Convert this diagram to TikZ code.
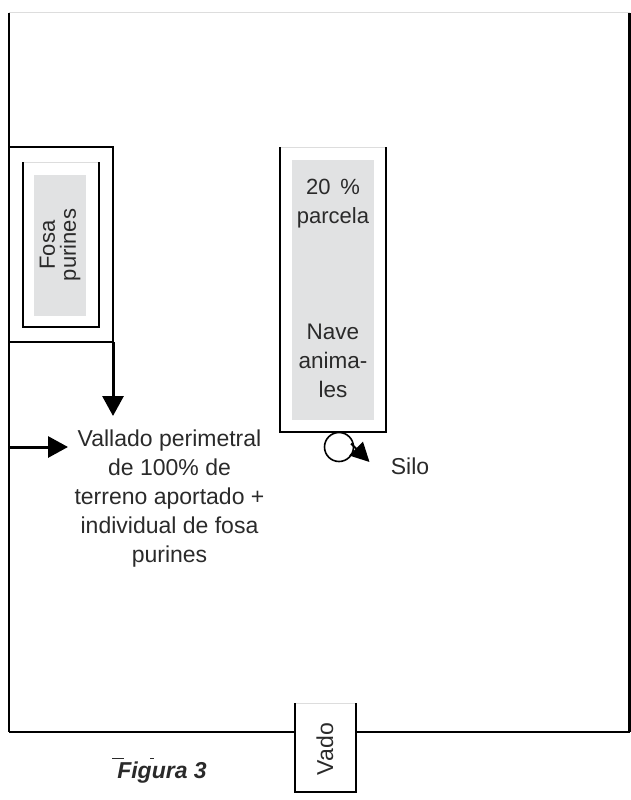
\documentclass[tikz,border=0pt]{standalone}
\usepackage{fontspec}
\setmainfont{Liberation Sans}
\usetikzlibrary{arrows.meta}
\definecolor{txt}{HTML}{2A2A2A}
\definecolor{panel}{HTML}{E1E2E3}
\definecolor{faint}{HTML}{DDDDDD}
\tikzset{
  wall/.style={line width=1.6pt,black},
  heavy wall/.style={line width=3pt,black},
  faint wall/.style={line width=1pt,faint},
  label/.style={text=txt,font=\fontsize{23}{29}\selectfont,align=center,inner sep=0pt},
  bigarrow/.style={line width=3pt,-{Triangle[length=20pt,width=21pt]}},
}
\begin{document}
\begin{tikzpicture}[x=1pt,y=-1pt]
\useasboundingbox (0,0) rectangle (631,800);
% outer fence
\coordinate (tl) at (8.5,13);
\coordinate (tr) at (629.5,13);
\coordinate (bl) at (8.5,732);
\coordinate (br) at (629.5,732);
\coordinate (vl) at (295,732);
\coordinate (vr) at (356,732);
\draw[faint wall] (tl) -- (tr);
\draw[wall,line width=2pt] (tl) -- (bl);
\draw[wall] (bl) -- (vl);
\draw[wall] (vr) -- (br);
\draw[heavy wall] (tr) -- (br);
% fosa fence
\coordinate (ftl) at (8,147);
\coordinate (ftr) at (113,147);
\coordinate (fbr) at (113,342);
\coordinate (fbl) at (8,342);
\draw[wall] (ftl) -- (ftr) -- (fbr) -- (fbl);
% fosa
\fill[panel] (34,175) rectangle (86,316);
\coordinate (ia) at (23,162);
\coordinate (ib) at (99,162);
\coordinate (ic) at (99,327);
\coordinate (id) at (23,327);
\draw[faint wall] (ia) -- (ib);
\draw[wall] (ia) -- (id) -- (ic) -- (ib);
\node[label,rotate=90,font=\fontsize{22}{21}\selectfont] (fosa) at (60,245) {Fosa\\purines};
% nave
\fill[panel] (292,160) rectangle (374,420);
\coordinate (na) at (280,147);
\coordinate (nb) at (386,147);
\coordinate (nc) at (386,432);
\coordinate (nd) at (280,432);
\draw[faint wall] (na) -- (nb);
\draw[wall] (na) -- (nd) -- (nc) -- (nb);
\node[label,font=\fontsize{22}{29}\selectfont] (pct) at (333,204) {20\hspace{0.45em}\%\\parcela};
\node[label,font=\fontsize{22.5}{29}\selectfont] (nave) at (333,361) {Nave\\anima-\\les};
% silo
\node[circle,draw,line width=1.6pt,minimum size=29pt,inner sep=0pt] (silo) at (339,447) {};
\coordinate (sstart) at (351,443.5);
\coordinate (sloc) at (369.5,462);
\draw[line width=2pt,-{Triangle[length=19pt,width=19pt]}] (sstart) -- (sloc);
\node[label] (silot) at (410,466) {Silo};
% text
\node[label] (vall) at (169.5,499) {Vallado perimetral\\de 100\% de\\terreno aportado +\\individual de fosa\\purines};
\coordinate (a1) at (8,447);
\coordinate (a2) at (68,447);
\coordinate (a3) at (113,416);
\draw[bigarrow] (fbr) -- (a3);
\draw[bigarrow] (a1) -- (a2);
% vado
\coordinate (va) at (295,703);
\coordinate (vb) at (356,703);
\coordinate (vc) at (356,792);
\coordinate (vd) at (295,792);
\draw[faint wall] (va) -- (vb);
\draw[wall] (va) -- (vd) -- (vc) -- (vb);
\node[label,rotate=90] (vado) at (325,749) {Vado};
% caption
\coordinate (m1) at (112,758);
\coordinate (m2) at (124,758);
\coordinate (m3) at (150,758);
\coordinate (m4) at (154,758);
\draw[line width=0.8pt,txt] (m1) -- (m2) (m3) -- (m4);
\node[label,font=\fontsize{23}{25}\selectfont\bfseries\itshape] (fig) at (162,773) {Figura 3};
\end{tikzpicture}
\end{document}
